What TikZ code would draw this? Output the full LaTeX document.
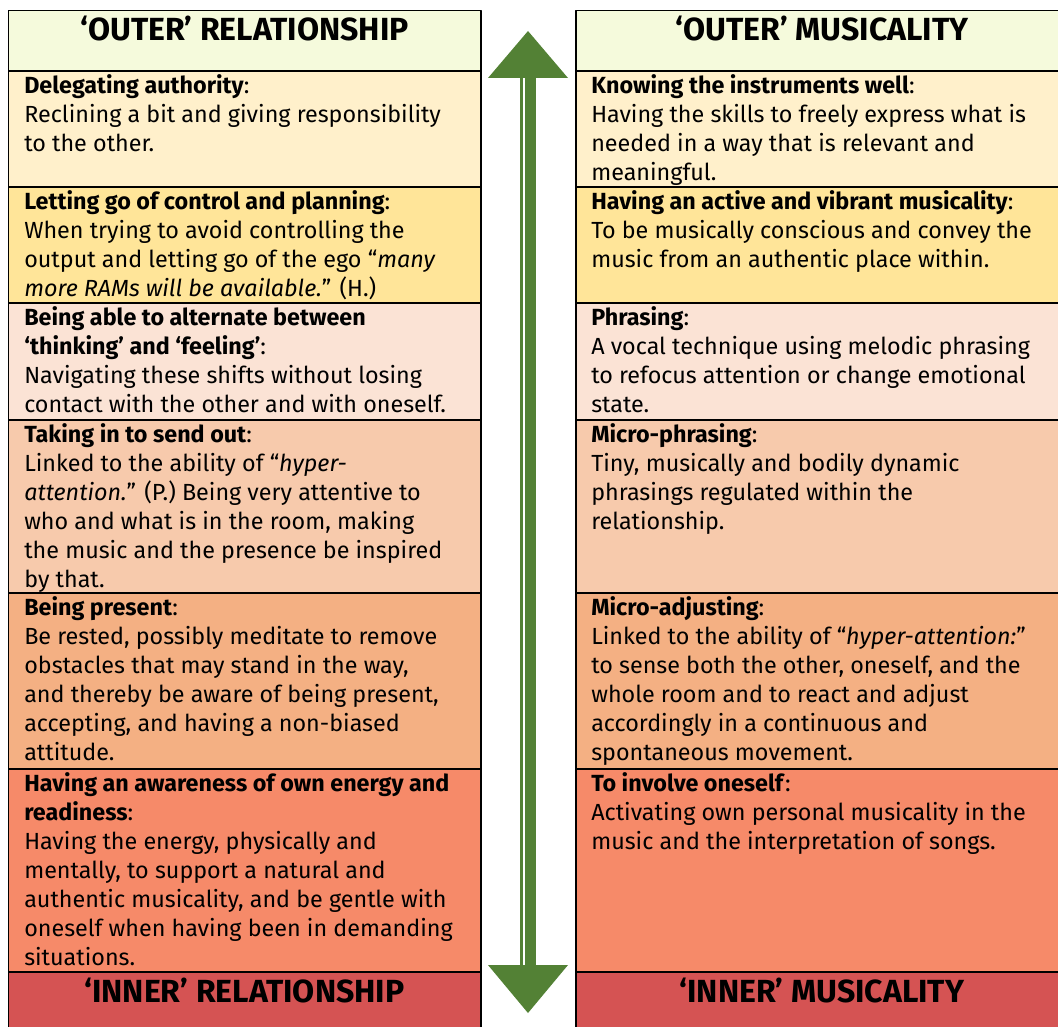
\documentclass[tikz,border=0pt]{standalone}
\usepackage{fontspec}
\setmainfont{Fira Sans}
\definecolor{hdrgreen}{HTML}{F5FADC}
\definecolor{rowa}{HTML}{FFF0CB}
\definecolor{rowb}{HTML}{FFE599}
\definecolor{rowc}{HTML}{FBE3D5}
\definecolor{rowd}{HTML}{F7CAAC}
\definecolor{rowe}{HTML}{F4B083}
\definecolor{rowf}{HTML}{F68A69}
\definecolor{ftrred}{HTML}{D55353}
\definecolor{arrowgreen}{HTML}{538135}

\begin{document}
\begin{tikzpicture}[x=0.75pt, y=-0.75pt, line join=round,
  cell/.style={draw=black, line width=1.2pt},
  celltext/.style={anchor=north west, inner sep=0pt, align=left,
    font=\fontsize{17.5}{21.75}\selectfont},
  title/.style={anchor=base, inner sep=0pt,
    font=\bfseries\fontsize{24}{28}\selectfont}]
  \useasboundingbox (0,0) rectangle (1058,1027);
  % table cells, left and right
  \foreach \top/\bot/\col in {10.7/71/hdrgreen, 71/187/rowa, 187/303/rowb,
      303/420/rowc, 420/593/rowd, 593/769/rowe, 769/972/rowf, 972/1032/ftrred}{
    \filldraw[cell, fill=\col] (8.5,\top) rectangle (481,\bot);
    \filldraw[cell, fill=\col] (576,\top) rectangle (1064,\bot);
  }
  % titles
  \node[title] (outrel) at (244.5,41) {‘OUTER’ RELATIONSHIP};
  \node[title] (outmus) at (822,41) {‘OUTER’ MUSICALITY};
  \node[title] (inrel) at (244.5,1002) {‘INNER’ RELATIONSHIP};
  \node[title] (inmus) at (822,1002) {‘INNER’ MUSICALITY};
  % left column
  \node[celltext] (rel1) at (24,72.7) {\strut\textbf{Delegating authority}:\\
    Reclining a bit and giving responsibility\\ to the other.};
  \node[celltext] (rel2) at (24,188.7) {\strut\textbf{Letting go of control and planning}:\\
    When trying to avoid controlling the\\
    output and letting go of the ego “\textit{many}\\
    \textit{more RAMs will be available.}” (H.)};
  \node[celltext] (rel3) at (24,304.7) {\strut\textbf{Being able to alternate between}\\
    \textbf{‘thinking’ and ‘feeling’}:\\
    Navigating these shifts without losing\\
    contact with the other and with oneself.};
  \node[celltext] (rel4) at (24,421.7) {\strut\textbf{Taking in to send out}:\\
    Linked to the ability of “\textit{hyper-}\\
    \textit{attention.}” (P.) Being very attentive to\\
    who and what is in the room, making\\
    the music and the presence be inspired\\
    by that.};
  \node[celltext] (rel5) at (24,594.7) {\strut\textbf{Being present}:\\
    Be rested, possibly meditate to remove\\
    obstacles that may stand in the way,\\
    and thereby be aware of being present,\\
    accepting, and having a non-biased\\
    attitude.};
  \node[celltext] (rel6) at (24,770.7) {\strut\textbf{Having an awareness of own energy and}\\
    \textbf{readiness}:\\
    Having the energy, physically and\\
    mentally, to support a natural and\\
    authentic musicality, and be gentle with\\
    oneself when having been in demanding\\
    situations.};
  % right column
  \node[celltext] (mus1) at (591,72.7) {\strut\textbf{Knowing the instruments well}:\\
    Having the skills to freely express what is\\
    needed in a way that is relevant and\\
    meaningful.};
  \node[celltext] (mus2) at (591,188.7) {\strut\textbf{Having an active and vibrant musicality}:\\
    To be musically conscious and convey the\\
    music from an authentic place within.};
  \node[celltext] (mus3) at (591,304.7) {\strut\textbf{Phrasing}:\\
    A vocal technique using melodic phrasing\\
    to refocus attention or change emotional\\
    state.};
  \node[celltext] (mus4) at (591,421.7) {\strut\textbf{Micro-phrasing}:\\
    Tiny, musically and bodily dynamic\\
    phrasings regulated within the\\
    relationship.};
  \node[celltext] (mus5) at (591,594.7) {\strut\textbf{Micro-adjusting}:\\
    Linked to the ability of “\textit{hyper-attention:}”\\
    to sense both the other, oneself, and the\\
    whole room and to react and adjust\\
    accordingly in a continuous and\\
    spontaneous movement.};
  \node[celltext] (mus6) at (591,770.7) {\strut\textbf{To involve oneself}:\\
    Activating own personal musicality in the\\
    music and the interpretation of songs.};
  % double-headed arrow between the columns
  \coordinate (up) at (528,31);
  \coordinate (dn) at (528,1013);
  \fill[arrowgreen] (up) -- ++(40,47) -- ++(-80,0) -- cycle;
  \fill[arrowgreen] (dn) -- ++(40,-48) -- ++(-80,0) -- cycle;
  \fill[arrowgreen] ([xshift=-6pt]up |- 0,77) rectangle ([xshift=-4pt]dn |- 0,966);
  \fill[arrowgreen] ([xshift=-2pt]up |- 0,77) rectangle ([xshift=6pt]dn |- 0,966);
\end{tikzpicture}
\end{document}
